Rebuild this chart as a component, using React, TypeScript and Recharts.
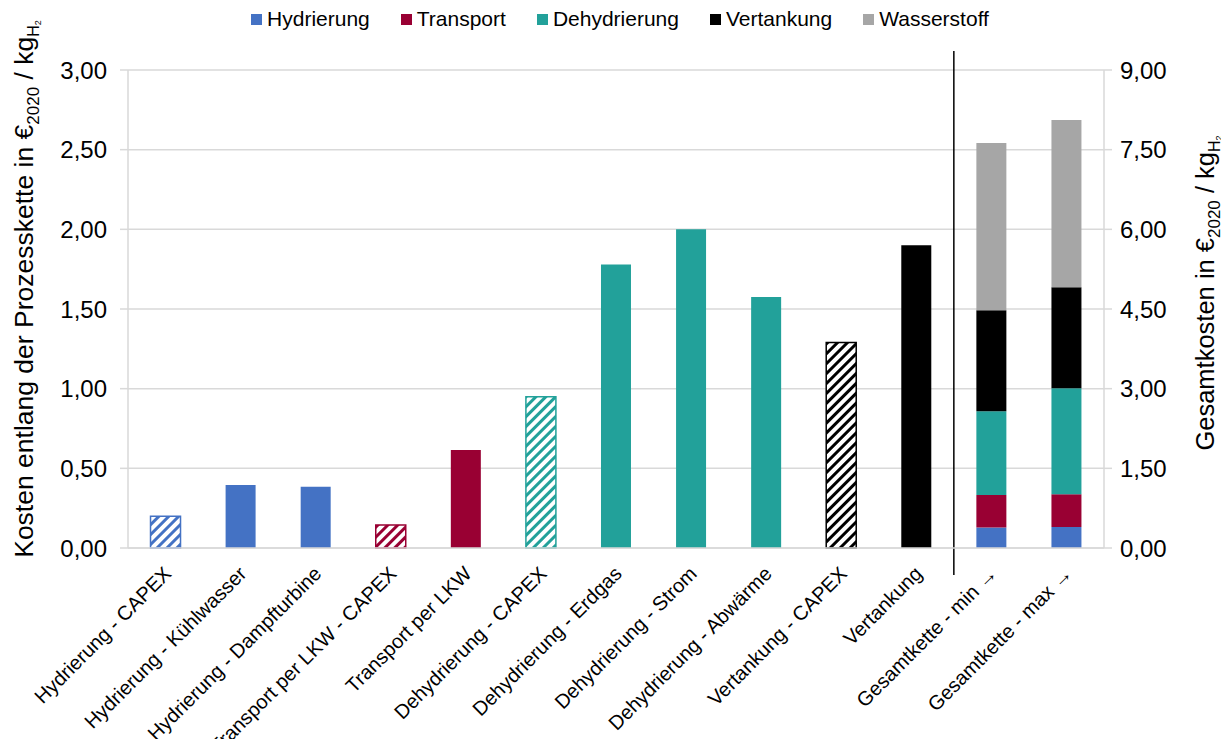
import { BarChart, Bar, XAxis, YAxis, CartesianGrid, ReferenceLine } from 'recharts'

const FONT = '"Liberation Sans", Arial, sans-serif'

const categories = [
    'Hydrierung - CAPEX',
    'Hydrierung - Kühlwasser',
    'Hydrierung - Dampfturbine',
    'Transport per LKW - CAPEX',
    'Transport per LKW',
    'Dehydrierung - CAPEX',
    'Dehydrierung - Erdgas',
    'Dehydrierung - Strom',
    'Dehydrierung - Abwärme',
    'Vertankung - CAPEX',
    'Vertankung',
    'Gesamtkette - min →',
    'Gesamtkette - max →',
]

// single process steps (left axis)
const stepValues = [0.2, 0.395, 0.385, 0.145, 0.615, 0.95, 1.78, 2.0, 1.575, 1.29, 1.9]
const stepGroups = ['hyd', 'hyd', 'hyd', 'trans', 'trans', 'dehyd', 'dehyd', 'dehyd', 'dehyd', 'vert', 'vert']
const stepCapex = [true, false, false, true, false, true, false, false, false, true, false]

// legend / series groups
const groups = ['hyd', 'trans', 'dehyd', 'vert', 'h2']
const groupNames = ['Hydrierung', 'Transport', 'Dehydrierung', 'Vertankung', 'Wasserstoff']
const groupColors = ['#4472C4', '#990033', '#22A19A', '#000000', '#A6A6A6']

// whole chain, stacked (right axis)
const chainMin = [0.385, 0.615, 1.575, 1.9, 3.15]
const chainMax = [0.395, 0.615, 2.0, 1.9, 3.15]

const leftTicks = [0, 0.5, 1, 1.5, 2, 2.5, 3]
const rightTicks = [0, 1.5, 3, 4.5, 6, 7.5, 9]

const data = categories.map((name, i) => {
    const row: Record<string, string | number> = { name }
    if (i < stepValues.length) {
        row[stepGroups[i] + (stepCapex[i] ? 'Capex' : '')] = stepValues[i]
    } else {
        const chain = i === stepValues.length ? chainMin : chainMax
        groups.forEach((g, k) => {
            row['chain_' + g] = chain[k]
        })
    }
    return row
})

const fmt = (v: number) => v.toFixed(2).replace('.', ',')

function CategoryTick({ x, y, payload }: any) {
    return (
        <g transform={`translate(${x + 7},${y + 27})`}>
            <text textAnchor="end" transform="rotate(-45)" fontSize={20} fill="#000" fontFamily={FONT}>
                {payload.value}
            </text>
        </g>
    )
}

function AxisTitle({ viewBox, side, lead }: any) {
    const { x, y, width, height } = viewBox
    const cx = side === 'left' ? x - 25 : x + width + 30
    const cy = side === 'left' ? y + height / 2 - 20 : y + height / 2 - 16
    const size = side === 'left' ? 26.5 : 25.5
    return (
        <text
            x={cx}
            y={cy}
            textAnchor="middle"
            transform={`rotate(-90 ${cx} ${cy})`}
            fontSize={size}
            fill="#000"
            fontFamily={FONT}
        >
            {lead} in €
            <tspan fontSize={17} dy={6}>2020</tspan>
            <tspan dy={-6}> / kg</tspan>
            <tspan fontSize={16} dy={6}>H</tspan>
            <tspan fontSize={9} dy={2}>2</tspan>
        </text>
    )
}

function DividerLine({ x1, y1, x2, y2 }: any) {
    return (
        <line
            x1={x1}
            x2={x2}
            y1={Math.min(y1, y2) - 19}
            y2={Math.max(y1, y2) + 27}
            stroke="#000"
            strokeWidth={1.5}
        />
    )
}

function ChartLegend() {
    return (
        <div
            style={{
                position: 'absolute',
                top: 7,
                left: 0,
                width: 1240,
                display: 'flex',
                justifyContent: 'center',
                gap: 31,
                fontFamily: FONT,
                fontSize: 21,
                color: '#000',
            }}
        >
            {groupNames.map((n, i) => (
                <div key={n} style={{ display: 'flex', alignItems: 'center', gap: 5 }}>
                    <span style={{ width: 11, height: 11, background: groupColors[i], display: 'inline-block' }} />
                    <span>{n}</span>
                </div>
            ))}
        </div>
    )
}

export default function App() {
    return (
        <div style={{ position: 'relative', margin: -8, width: 1229, height: 747, background: '#fff' }}>
            <ChartLegend />
            <BarChart
                width={1229}
                height={747}
                data={data}
                margin={{ top: 70, right: 45, left: 58, bottom: 9 }}
                barCategoryGap="30%"
            >
                <defs>
                    {groups.map((g, i) => (
                        <pattern
                            key={g}
                            id={'hatch-' + g}
                            patternUnits="userSpaceOnUse"
                            width={7}
                            height={7}
                            patternTransform="rotate(45)"
                        >
                            <rect width={7} height={7} fill="#fff" />
                            <rect width={3} height={7} fill={groupColors[i]} />
                        </pattern>
                    ))}
                </defs>
                <CartesianGrid yAxisId="left" vertical={false} stroke="#d9d9d9" strokeWidth={1.5} />
                <XAxis
                    dataKey="name"
                    interval={0}
                    height={190}
                    tick={<CategoryTick />}
                    tickLine={false}
                    tickSize={0}
                    tickMargin={0}
                    axisLine={{ stroke: '#d9d9d9', strokeWidth: 1.5 }}
                />
                <YAxis
                    yAxisId="left"
                    domain={[0, 3]}
                    ticks={leftTicks}
                    tickFormatter={fmt}
                    width={70}
                    tickSize={8}
                    tickMargin={13}
                    tickLine={{ stroke: '#d9d9d9', strokeWidth: 1.5 }}
                    axisLine={{ stroke: '#d9d9d9', strokeWidth: 1.5 }}
                    tick={{ fill: '#000', fontSize: 24, fontFamily: FONT }}
                    label={<AxisTitle side="left" lead="Kosten entlang der Prozesskette" />}
                />
                <YAxis
                    yAxisId="right"
                    orientation="right"
                    domain={[0, 9]}
                    ticks={rightTicks}
                    tickFormatter={fmt}
                    width={80}
                    tickSize={8}
                    tickMargin={8}
                    tickLine={{ stroke: '#d9d9d9', strokeWidth: 1.5 }}
                    axisLine={{ stroke: '#d9d9d9', strokeWidth: 1.5 }}
                    tick={{ fill: '#000', fontSize: 24, fontFamily: FONT }}
                    label={<AxisTitle side="right" lead="Gesamtkosten" />}
                />
                {groups.slice(0, 4).map((g, i) => (
                    <Bar
                        key={g}
                        dataKey={g}
                        yAxisId="left"
                        stackId="a"
                        fill={groupColors[i]}
                        isAnimationActive={false}
                    />
                ))}
                {groups.slice(0, 4).map((g, i) => (
                    <Bar
                        key={g + 'Capex'}
                        dataKey={g + 'Capex'}
                        yAxisId="left"
                        stackId="a"
                        fill={`url(#hatch-${g})`}
                        stroke={groupColors[i]}
                        strokeWidth={1.5}
                        isAnimationActive={false}
                    />
                ))}
                {groups.map((g, i) => (
                    <Bar
                        key={'chain_' + g}
                        dataKey={'chain_' + g}
                        name={groupNames[i]}
                        yAxisId="right"
                        stackId="a"
                        fill={groupColors[i]}
                        isAnimationActive={false}
                    />
                ))}
                <ReferenceLine yAxisId="left" x="Vertankung" position="end" shape={<DividerLine />} />
            </BarChart>
        </div>
    )
}
